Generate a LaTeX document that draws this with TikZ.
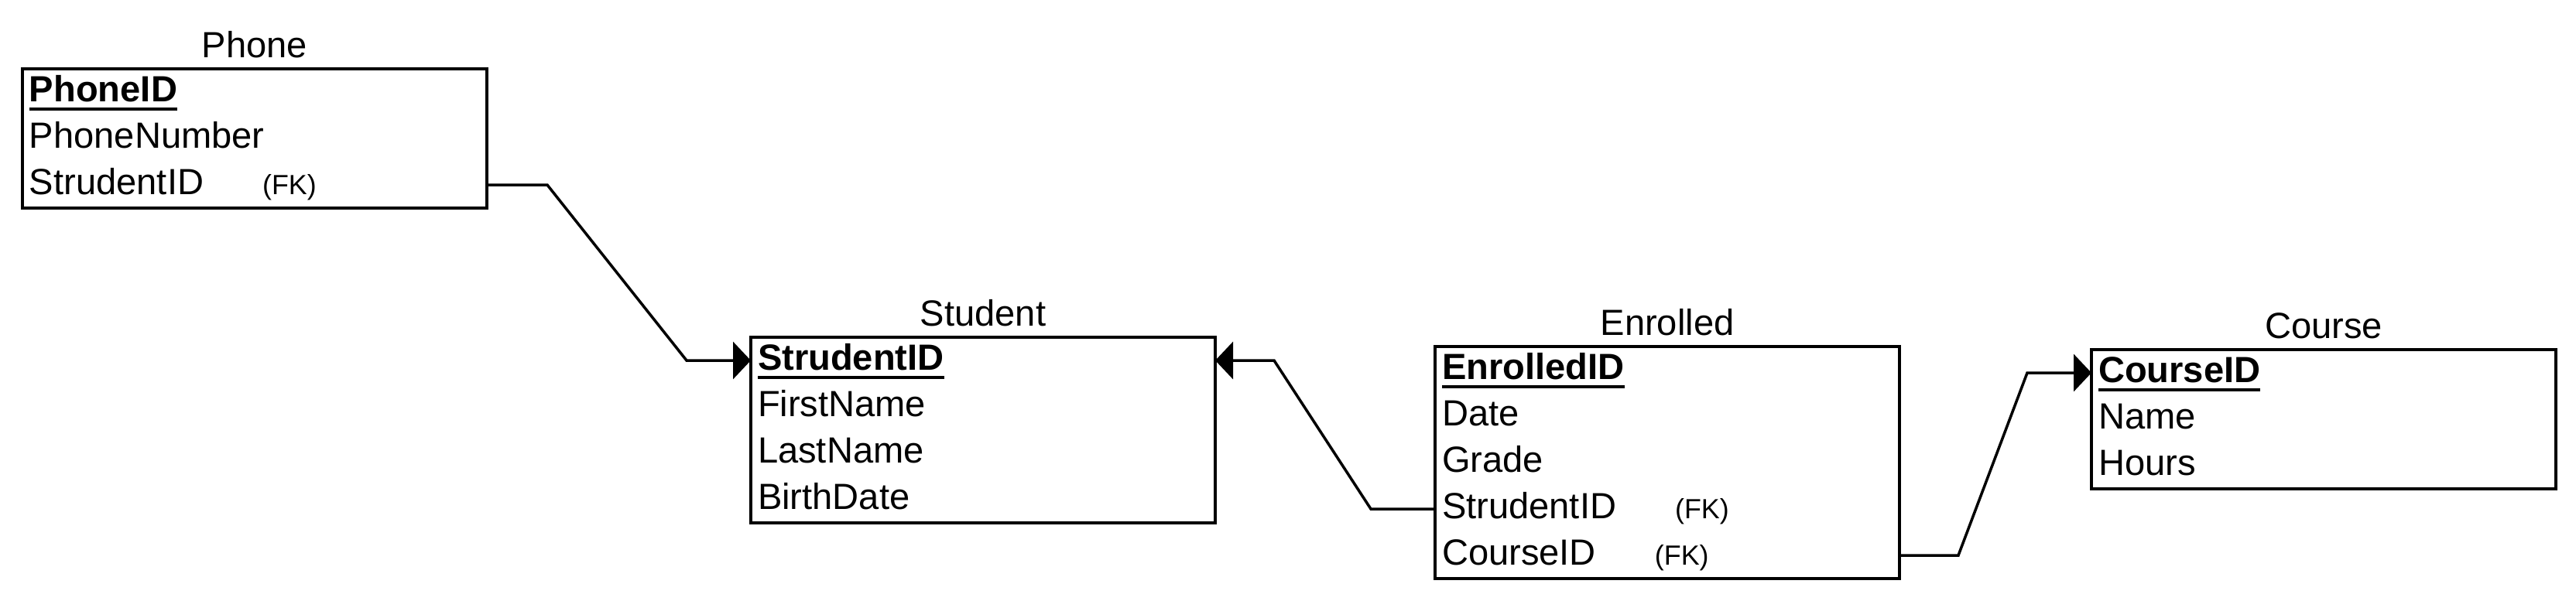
\documentclass[tikz,border=0pt]{standalone}
\usepackage{fontspec}
\setmainfont{Liberation Sans}
\usetikzlibrary{positioning,fit,arrows.meta}

\newcommand{\keyfield}[1]{\setbox0\hbox{\bfseries #1}\rlap{\rule[-0.11cm]{\wd0}{0.04cm}}\box0}
\newcommand{\fklabel}{\hspace{0.76cm}{\fontsize{10.2pt}{12pt}\selectfont (FK)}}

\tikzset{
  row/.style={inner xsep=0.09cm, inner ysep=0pt, outer sep=0pt, text width=5.82cm, align=left,
    minimum height=0.6cm, text height=0.425cm, text depth=0.175cm, anchor=north west},
  tablebox/.style={draw, line width=1pt, inner sep=0pt},
  tabletitle/.style={inner sep=0pt, text depth=0pt},
  fklink/.style={line width=1pt, -{Triangle[length=0.23cm,width=0.48cm]}}
}

\begin{document}
\begin{tikzpicture}[every node/.style={font=\fontsize{13.4pt}{16pt}\selectfont}]
      \useasboundingbox (0,0) rectangle (33.28,-7.76);
      % Phone
      \node[row] (phone1) at (0.29,-0.89) {\keyfield{PhoneID}};
      \node[row, below=0pt of phone1] (phone2) {PhoneNumber};
      \node[row, below=0pt of phone2] (phone3) {StrudentID\fklabel};
      \node[tablebox, fit=(phone1)(phone3)] (phone) {};
      \node[tabletitle, above=0.12cm of phone] (phonetitle) {Phone};
      % Student
      \node[row] (student1) at (9.70,-4.36) {\keyfield{StrudentID}};
      \node[row, below=0pt of student1] (student2) {FirstName};
      \node[row, below=0pt of student2] (student3) {LastName};
      \node[row, below=0pt of student3] (student4) {BirthDate};
      \node[tablebox, fit=(student1)(student4)] (student) {};
      \node[tabletitle, above=0.12cm of student] (studenttitle) {Student};
      % Enrolled
      \node[row] (enrolled1) at (18.54,-4.48) {\keyfield{EnrolledID}};
      \node[row, below=0pt of enrolled1] (enrolled2) {Date};
      \node[row, below=0pt of enrolled2] (enrolled3) {Grade};
      \node[row, below=0pt of enrolled3] (enrolled4) {StrudentID\fklabel};
      \node[row, below=0pt of enrolled4] (enrolled5) {CourseID\fklabel};
      \node[tablebox, fit=(enrolled1)(enrolled5)] (enrolled) {};
      \node[tabletitle, above=0.12cm of enrolled] (enrolledtitle) {Enrolled};
      % Course
      \node[row] (course1) at (27.02,-4.52) {\keyfield{CourseID}};
      \node[row, below=0pt of course1] (course2) {Name};
      \node[row, below=0pt of course2] (course3) {Hours};
      \node[tablebox, fit=(course1)(course3)] (course) {};
      \node[tabletitle, above=0.12cm of course] (coursetitle) {Course};
      \begin{scope}[fklink]
        \draw (phone3.east) -- ++(0.78,0) -- ([xshift=-0.83cm]student1.west) -- (student1.west);
        \draw (enrolled4.west) -- ++(-0.83,0) -- ([xshift=0.76cm]student1.east) -- (student1.east);
        \draw (enrolled5.east) -- ++(0.76,0) -- ([xshift=-0.83cm]course1.west) -- (course1.west);
      \end{scope}
    \end{tikzpicture}
\end{document}
